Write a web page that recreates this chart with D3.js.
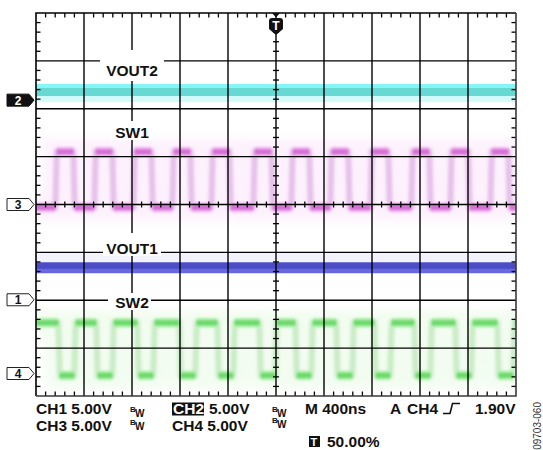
<!DOCTYPE html>
<html>
<head>
<meta charset="utf-8">
<script src="https://cdn.jsdelivr.net/npm/d3@7"></script>
<style>
  html, body { margin: 0; padding: 0; background: #fff; }
  svg { display: block; font-family: "Liberation Sans", Arial, Helvetica, sans-serif; }
</style>
</head>
<body>
<svg id="scope" width="543" height="450"></svg>
<script>
// ---- Acquisition settings -------------------------------------------------
const timeDomainNs = [-2000, 2000];      // 10 div x 400 ns, trigger at centre
const divDomain = [-4, 4];               // 8 vertical divisions
const voltsPerDiv = 5.0;

// Channel ground markers (divisions from screen centre)
const channelIds = [1, 2, 3, 4];
const channelGroundDiv = [-1.99, 2.18, 0.0, -3.53];

// DC outputs (volts)
const vout1Level = 3.3;   // CH1
const vout2Level = 0.85;  // CH2

// SW1 (CH3) switch node: high/low levels and edge times (ns)
const sw1Levels = [5.5, -0.3];
const sw1Rise = [-1833, -1508, -1183, -858, -533, -183, 133, 458, 792, 1133, 1458, 1792];
const sw1Fall = [-1683, -1358, -1033, -708, -383, -33, 283, 608, 942, 1283, 1608, 1942];

// SW2 (CH4) switch node: high/low levels and edge times (ns)
const sw2Levels = [5.3, -0.2];
const sw2Fall = [-1808, -1492, -1150, -800, -483, -133, 167, 508, 825, 1158, 1500, 1850];
const sw2Rise = [-1675, -1358, -1017, -667, -350, 0, 300, 642, 958, 1292, 1633, 1983];

// Readout text
const readoutRow1 = ["CH1 5.00V", "CH2", "5.00V", "M 400ns", "A", "CH4", "1.90V"];
const readoutRow2 = ["CH3 5.00V", "CH4 5.00V"];
const triggerPosText = "50.00%";
const figureId = "09703-060";

// ---- Layout ---------------------------------------------------------------
const svg = d3.select("#scope");
const plot = { left: 36, right: 516, top: 13, bottom: 396 };

const x = d3.scaleLinear().domain(timeDomainNs).range([plot.left, plot.right]);
const yDiv = d3.scaleLinear().domain(divDomain).range([plot.bottom, plot.top]);
const yVolt = (ch, v) => yDiv(channelGroundDiv[ch - 1] + v / voltsPerDiv);

const defs = svg.append("defs");
defs.append("clipPath").attr("id", "screenClip")
  .append("rect")
  .attr("x", plot.left).attr("y", plot.top)
  .attr("width", plot.right - plot.left).attr("height", plot.bottom - plot.top);

// user-space filter regions so flat (zero-height) paths still render
function blur(id, sd) {
  defs.append("filter").attr("id", id)
    .attr("filterUnits", "userSpaceOnUse")
    .attr("x", 0).attr("y", 0).attr("width", 543).attr("height", 450)
    .append("feGaussianBlur").attr("stdDeviation", sd);
}
blur("soft1", 0.9);
blur("soft2", 1.8);
blur("soft6", 5);

const traces = svg.append("g").attr("clip-path", "url(#screenClip)");

// ---- DC output bands ------------------------------------------------------
const flat = d3.line().x(d => x(d[0])).y(d => d[1]);
function band(ch, v, layers) {
  const y0 = yVolt(ch, v);
  layers.forEach(l => {
    traces.append("path")
      .attr("d", flat([[timeDomainNs[0], y0 + l.dy], [timeDomainNs[1], y0 + l.dy]]))
      .attr("fill", "none")
      .attr("stroke", l.color)
      .attr("stroke-width", l.w);
  });
}
band(2, vout2Level, [
  { dy: 1, w: 18, color: "#d2fbfb" },
  { dy: -2, w: 12, color: "#86f5f5" },
  { dy: 0, w: 8, color: "#68d8d2" }
]);
band(1, vout1Level, [
  { dy: -5, w: 20, color: "#f3f3fd" },
  { dy: -0.5, w: 11, color: "#6868de" },
  { dy: -2.5, w: 6, color: "#4b4cc6" }
]);

// ---- Switch node waveforms ------------------------------------------------
function squareWave(rises, falls, levels, startHigh) {
  const events = rises.map(t => ({ t, hi: true }))
    .concat(falls.map(t => ({ t, hi: false })))
    .sort((a, b) => a.t - b.t);
  const edge = 12;
  let hi = startHigh;
  const pts = [[timeDomainNs[0], hi ? levels[0] : levels[1]]];
  events.forEach(e => {
    pts.push([e.t - edge / 2, hi ? levels[0] : levels[1]]);
    hi = e.hi;
    pts.push([e.t + edge / 2, hi ? levels[0] : levels[1]]);
  });
  pts.push([timeDomainNs[1], hi ? levels[0] : levels[1]]);
  return pts;
}

function drawSwitch(ch, pts, pal) {
  const line = d3.line().x(d => x(d[0])).y(d => yVolt(ch, d[1]));
  const g = traces.append("g");
  // persistence haze around the trace
  g.append("path").attr("d", line(pts)).attr("fill", "none")
    .attr("stroke", pal.haze).attr("stroke-width", 26).attr("opacity", 0.3)
    .attr("filter", "url(#soft6)");
  // faint edges
  g.append("path").attr("d", line(pts)).attr("fill", "none")
    .attr("stroke", pal.edge).attr("stroke-width", 6).attr("opacity", 0.8)
    .attr("filter", "url(#soft2)");
  // brighter flat levels
  const segs = [];
  for (let i = 0; i < pts.length - 1; i++) {
    if (pts[i][1] === pts[i + 1][1]) segs.push([pts[i], pts[i + 1]]);
  }
  g.selectAll(null).data(segs).enter().append("path")
    .attr("d", d => line(d)).attr("fill", "none")
    .attr("stroke", pal.light).attr("stroke-width", 10).attr("opacity", 0.75)
    .attr("filter", "url(#soft1)");
  g.selectAll(null).data(segs).enter().append("path")
    .attr("d", d => line(d)).attr("fill", "none")
    .attr("stroke", pal.dark).attr("stroke-width", 5).attr("opacity", 0.85)
    .attr("filter", "url(#soft1)");
}

drawSwitch(3, squareWave(sw1Rise, sw1Fall, sw1Levels, false),
  { haze: "#f6d2f6", edge: "#e0b4e4", light: "#f6a8f6", dark: "#cd66cd" });
drawSwitch(4, squareWave(sw2Rise, sw2Fall, sw2Levels, true),
  { haze: "#d6f6d0", edge: "#c0e8bc", light: "#a8f2a4", dark: "#62d462" });

// ---- Graticule ------------------------------------------------------------
const grid = svg.append("g").attr("stroke", "#000").attr("stroke-width", 1.4);
d3.range(1, 10).forEach(i => {
  const gx = x(timeDomainNs[0] + i * 400);
  grid.append("line").attr("x1", gx).attr("x2", gx).attr("y1", plot.top).attr("y2", plot.bottom);
});
d3.range(1, 8).forEach(i => {
  const gy = yDiv(divDomain[0] + i);
  grid.append("line").attr("y1", gy).attr("y2", gy).attr("x1", plot.left).attr("x2", plot.right);
});

// minor ticks: 5 per division
const ticks = svg.append("g").attr("stroke", "#000").attr("stroke-width", 1.3);
const tStep = 80, vStep = 0.2;
d3.range(timeDomainNs[0] + tStep, timeDomainNs[1], tStep).forEach((t, i) => {
  if ((i + 1) % 5 === 0) return;
  const tx = x(t);
  ticks.append("line").attr("x1", tx).attr("x2", tx).attr("y1", plot.top).attr("y2", plot.top + 4.5);
  ticks.append("line").attr("x1", tx).attr("x2", tx).attr("y1", plot.bottom).attr("y2", plot.bottom - 4.5);
  ticks.append("line").attr("x1", tx).attr("x2", tx).attr("y1", yDiv(0) - 3).attr("y2", yDiv(0) + 3);
});
d3.range(1, 40).forEach(i => {
  if (i % 5 === 0) return;
  const ty = yDiv(divDomain[0] + i * vStep);
  ticks.append("line").attr("y1", ty).attr("y2", ty).attr("x1", plot.left).attr("x2", plot.left + 4.5);
  ticks.append("line").attr("y1", ty).attr("y2", ty).attr("x1", plot.right).attr("x2", plot.right - 4.5);
  ticks.append("line").attr("y1", ty).attr("y2", ty).attr("x1", x(0) - 3).attr("x2", x(0) + 3);
});

// frame
svg.append("path")
  .attr("d", `M${plot.left},${plot.bottom}V${plot.top}H${plot.right}`)
  .attr("fill", "none").attr("stroke", "#000").attr("stroke-width", 1.6);
svg.append("path")
  .attr("d", `M${plot.right},${plot.top}V${plot.bottom}H${plot.left}`)
  .attr("fill", "none").attr("stroke", "#3a3a3a").attr("stroke-width", 1.6);

// ---- Trace labels ---------------------------------------------------------
const labelFont = 15.5;
const traceLabels = [
  { text: "VOUT2", box: [100, 50, 164, 81], base: 75.5 },
  { text: "SW1",   box: [110, 121, 153, 140], base: 137.5 },
  { text: "VOUT1", box: [103, 233, 161, 256], base: 253.5 },
  { text: "SW2",   box: [108, 293, 151, 310], base: 307.5 }
];
const lab = svg.append("g");
traceLabels.forEach(d => {
  lab.append("rect").attr("x", d.box[0]).attr("y", d.box[1])
    .attr("width", d.box[2] - d.box[0]).attr("height", d.box[3] - d.box[1])
    .attr("fill", "#fff");
  lab.append("text").attr("x", x(-1200)).attr("y", d.base)
    .attr("text-anchor", "middle").attr("font-weight", "bold")
    .attr("font-size", labelFont).attr("fill", "#111").text(d.text);
});

// ---- Channel ground markers -----------------------------------------------
const markers = svg.append("g");
channelIds.forEach((id, i) => {
  const cy = yDiv(channelGroundDiv[i]);
  const filled = id === 2;
  markers.append("path")
    .attr("d", `M7,${cy - 6}H29L34,${cy}L29,${cy + 6}H7Z`)
    .attr("fill", filled ? "#111" : "#fff")
    .attr("stroke", filled ? "#111" : "#222").attr("stroke-width", 1);
  markers.append("text").attr("x", 18).attr("y", cy + 4.5)
    .attr("text-anchor", "middle").attr("font-weight", "bold").attr("font-size", 12)
    .attr("fill", filled ? "#fff" : "#111").text(id);
});

// trigger position marker
const tx0 = x(0);
svg.append("path").attr("d", `M${tx0 - 4},${plot.top}H${tx0 + 4}L${tx0},${plot.top + 4.5}Z`).attr("fill", "#111");
svg.append("path")
  .attr("d", `M${tx0 - 7},21Q${tx0 - 7},18 ${tx0 - 4},18H${tx0 + 4}Q${tx0 + 7},18 ${tx0 + 7},21V29L${tx0},35L${tx0 - 7},29Z`)
  .attr("fill", "#111");
svg.append("text").attr("x", tx0).attr("y", 30).attr("text-anchor", "middle")
  .attr("font-weight", "bold").attr("font-size", 12).attr("fill", "#fff").text("T");

// ---- Readout --------------------------------------------------------------
const ro = svg.append("g").attr("font-weight", "bold").attr("fill", "#111");
const big = 15.5;
function txt(s, xx, yy, size) {
  return ro.append("text").attr("x", xx).attr("y", yy).attr("font-size", size || big).text(s);
}
function bw(xx, yy) {
  txt("B", xx, yy - 1, 8);
  txt("W", xx + 5, yy + 4, 10);
}
// row 1
txt(readoutRow1[0], 36, 414);
bw(130, 413);
ro.append("rect").attr("x", 172).attr("y", 402.5).attr("width", 32).attr("height", 13).attr("fill", "#111");
txt(readoutRow1[1], 173, 414).attr("fill", "#fff");
txt(readoutRow1[2], 209, 414);
bw(272, 413);
txt(readoutRow1[3], 305, 414);
txt(readoutRow1[4], 390, 414);
txt(readoutRow1[5], 407, 414);
ro.append("path").attr("d", "M443,413.5H450L452.5,403.5H460")
  .attr("fill", "none").attr("stroke", "#111").attr("stroke-width", 1.6);
txt(readoutRow1[6], 475, 414);
// row 2
txt(readoutRow2[0], 36, 431);
bw(130, 426);
txt(readoutRow2[1], 172, 431);
bw(272, 424);
// row 3
ro.append("rect").attr("x", 309).attr("y", 436).attr("width", 11).attr("height", 11).attr("fill", "#111");
txt("T", 310.5, 445.5, 11).attr("fill", "#fff");
txt(triggerPosText, 327, 446.5);

// figure id, vertical
svg.append("text")
  .attr("transform", "translate(541,402) rotate(-90)")
  .attr("text-anchor", "end").attr("font-size", 10).attr("fill", "#333")
  .text(figureId);
</script>
</body>
</html>
